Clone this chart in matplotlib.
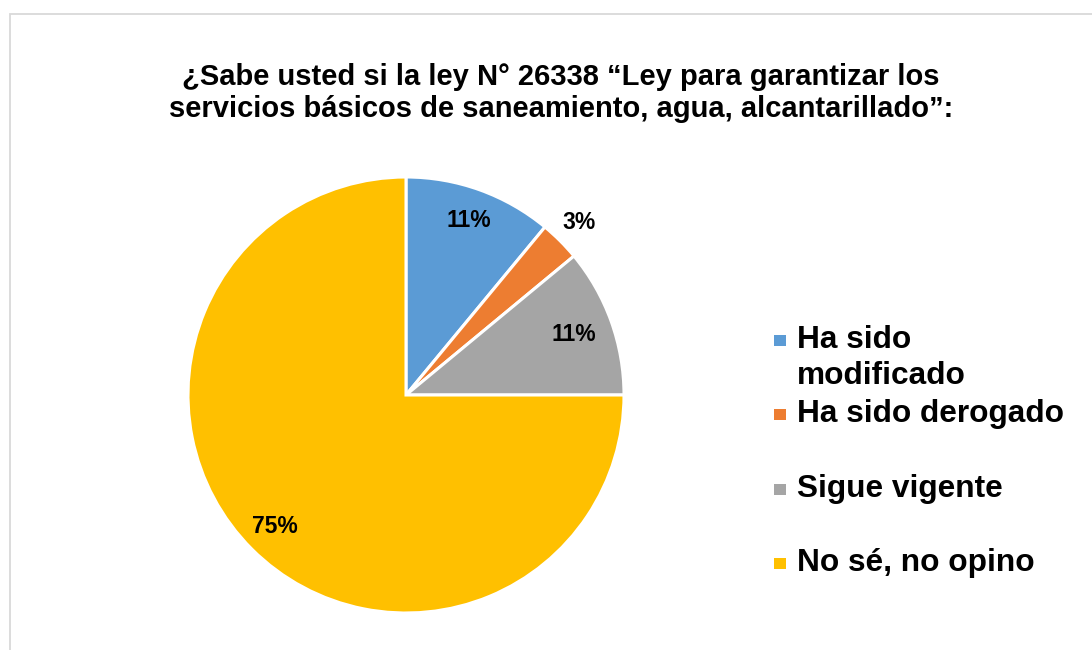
import matplotlib
matplotlib.use('Agg')
import matplotlib.pyplot as plt
from matplotlib.patches import Rectangle
import numpy as np

# Survey answers (percent)
labels = ['Ha sido\nmodificado', 'Ha sido derogado', 'Sigue vigente', 'No sé, no opino']
values = [11, 3, 11, 75]
colors = ['#5B9BD5', '#ED7D31', '#A5A5A5', '#FFC000']
pct_dist = [0.85, 1.12, 0.82, 0.85]   # where each percent label sits (radius units)

title = ('¿Sabe usted si la ley N° 26338 “Ley para garantizar los\n'
         'servicios básicos de saneamiento, agua, alcantarillado”:')

plt.rcParams['font.family'] = ['Liberation Sans', 'DejaVu Sans']

W, H = 1092, 650
fig = plt.figure(figsize=(W / 100, H / 100), dpi=100)


def fx(px):
    return px / W


def fy(py):
    return 1 - py / H


# outer chart frame (cut off at right and bottom in the original)
fig.patches.append(Rectangle((fx(9.5), fy(700)), fx(1200), fy(13.5) - fy(700),
                             transform=fig.transFigure, fill=False,
                             edgecolor='#D9D9D9', linewidth=1.3))

fig.text(fx(561), fy(93), title, ha='center', va='center', fontsize=21,
         fontweight='bold', linespacing=1.15)

# pie: centre (406, 395), radius 218 px
cx, cy, r = 406, 395, 218
ax = fig.add_axes([fx(cx - r), fy(cy + r), fx(2 * r), (2 * r) / H])
wedges, _ = ax.pie(values, colors=colors, startangle=90, counterclock=False,
                   radius=1, wedgeprops=dict(edgecolor='white', linewidth=2.2))
ax.set_xlim(-1, 1)
ax.set_ylim(-1, 1)
ax.axis('off')

for w, v, d in zip(wedges, values, pct_dist):
    ang = np.deg2rad((w.theta1 + w.theta2) / 2)
    ax.text(d * np.cos(ang), d * np.sin(ang), f'{v}%', ha='center', va='center',
            fontsize=16.5, fontweight='bold')

# legend drawn by hand to keep Excel's uneven spacing
leg_y = [340, 414, 489, 563]
for lab, col, y in zip(labels, colors, leg_y):
    fig.patches.append(Rectangle((fx(774), fy(y + 5.5)), fx(12), 11 / H,
                                 transform=fig.transFigure, facecolor=col,
                                 edgecolor='none'))
    ty = y + 18 if '\n' in lab else y
    fig.text(fx(797), fy(ty), lab, ha='left', va='center',
             fontsize=22.8, fontweight='bold', linespacing=1.22)

fig.savefig('out.png', dpi=100)
